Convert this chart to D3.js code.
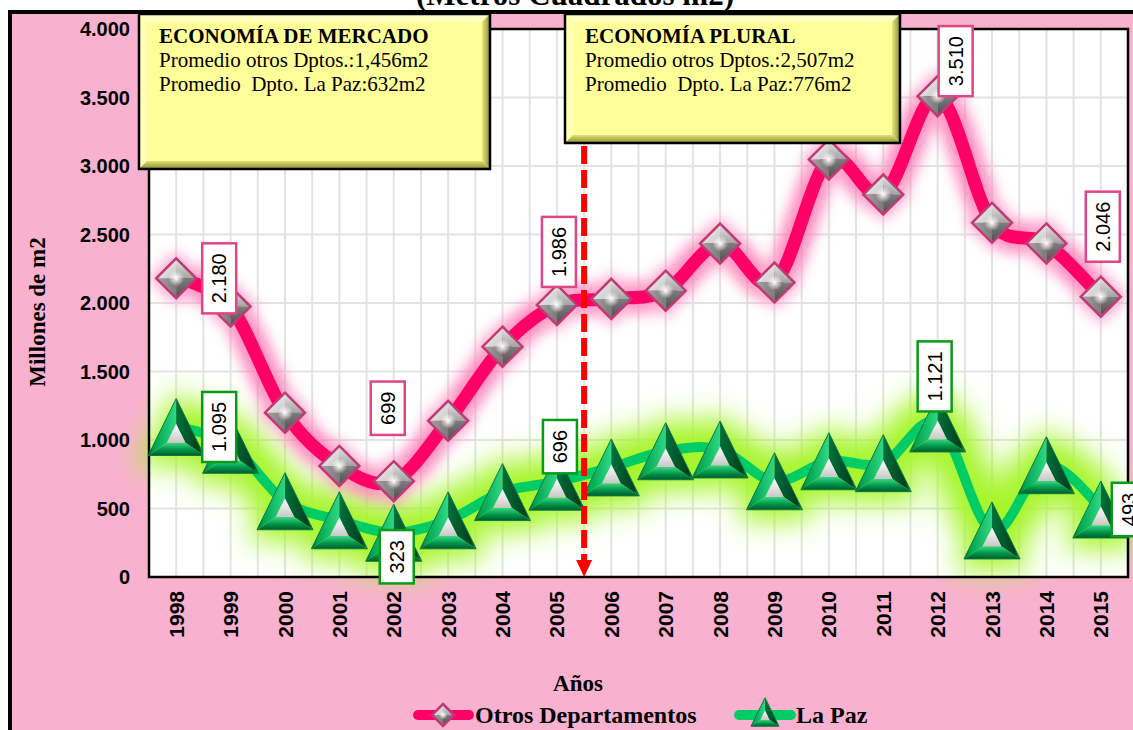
<!DOCTYPE html>
<html>
<head>
<meta charset="utf-8">
<title>Millones de m2</title>
<script src="https://cdn.jsdelivr.net/npm/d3@7"></script>
<style>
body { margin:0; background:#fff; }
svg { display:block; }
</style>
</head>
<body>
<div id="chart"></div>
<script>

var years = ["1998","1999","2000","2001","2002","2003","2004","2005","2006",
             "2007","2008","2009","2010","2011","2012","2013","2014","2015"];
var otrosDptos = [2180, 1974, 1199, 811, 699, 1140, 1681, 1986, 2030,
                  2090, 2434, 2149, 3048, 2792, 3510, 2585, 2435, 2046];
var laPaz = [1095, 965, 553, 414, 323, 414, 620, 696, 800,
             918, 931, 699, 845, 831, 1121, 340, 816, 493];
var yTicks = [0, 500, 1000, 1500, 2000, 2500, 3000, 3500, 4000];
var seriesNames = ["Otros Departamentos", "La Paz"];
var boxMercado = ["ECONOMÍA DE MERCADO", "Promedio otros Dptos.:1,456m2", "Promedio  Dpto. La Paz:632m2"];
var boxPlural = ["ECONOMÍA PLURAL", "Promedio otros Dptos.:2,507m2", "Promedio  Dpto. La Paz:776m2"];
var splitYear = "2006";

// which points get a value label, and where the label sits (px from the point)
var labelLayout = [
  {s: 0, i: 0,  dx: 43, dy: 0},
  {s: 0, i: 4,  dx: -6, dy: -73},
  {s: 0, i: 7,  dx: 2,  dy: -53},
  {s: 0, i: 14, dx: 18, dy: -35},
  {s: 0, i: 17, dx: 2,  dy: -70},
  {s: 1, i: 0,  dx: 43, dy: 0},
  {s: 1, i: 4,  dx: 3,  dy: 24},
  {s: 1, i: 7,  dx: 3,  dy: -35},
  {s: 1, i: 14, dx: -3, dy: -47},
  {s: 1, i: 17, dx: 28, dy: 0}
];

var W = 1133, H = 730;
var plot = {left: 149, right: 1128, top: 29, bottom: 577};
var pink = "#F8B1CF";
var sans = "'Liberation Sans', Arial, sans-serif";
var serif = "'Liberation Serif', 'Times New Roman', serif";

var fmt = function(v) { return d3.format(",")(v).replace(/,/g, "."); };

var svg = d3.select("#chart").append("svg")
  .attr("width", W).attr("height", H);

var defs = svg.append("defs");
function grad(id, x2, y2, stops) {
  var g = defs.append("linearGradient").attr("id", id)
    .attr("x1", 0).attr("y1", 0).attr("x2", x2).attr("y2", y2);
  stops.forEach(function(s) {
    g.append("stop").attr("offset", s[0]).attr("stop-color", s[1]);
  });
}
grad("tL", 1, 0, [[0, "#005a2d"], [0.2, "#00a350"], [1, "#2fd884"]]);
grad("tR", 1, 0, [[0, "#00713a"], [0.8, "#003f1f"], [1, "#0f8f4c"]]);
grad("tB", 0, 1, [[0, "#3ad685"], [0.55, "#00964a"], [1, "#005a2c"]]);
grad("tI", 0, 1, [[0, "#ffffff"], [1, "#c8c8c8"]]);
grad("dTL", 1, 1, [[0, "#ffffff"], [1, "#c4c4c4"]]);
grad("dTR", 0, 1, [[0, "#e6e6e6"], [1, "#a3a3a3"]]);
grad("dBL", 1, 0, [[0, "#a8a8a8"], [1, "#7a7a7a"]]);
grad("dBR", 0, 1, [[0, "#7d7d7d"], [1, "#4d4d4d"]]);
grad("boxR", 1, 0, [[0, "#e8e87a"], [1, "#8c8c3a"]]);
grad("boxB", 0, 1, [[0, "#e0e070"], [1, "#8a8a38"]]);
var rg = defs.append("radialGradient").attr("id", "dHi");
rg.append("stop").attr("offset", 0).attr("stop-color", "#fff").attr("stop-opacity", 1);
rg.append("stop").attr("offset", 1).attr("stop-color", "#fff").attr("stop-opacity", 0);

defs.append("filter").attr("id", "blurPink")
  .attr("filterUnits", "userSpaceOnUse").attr("x", 0).attr("y", 0).attr("width", W).attr("height", H)
  .append("feGaussianBlur").attr("stdDeviation", 7);
defs.append("filter").attr("id", "blurGreen")
  .attr("filterUnits", "userSpaceOnUse").attr("x", 0).attr("y", 0).attr("width", W).attr("height", H)
  .append("feGaussianBlur").attr("stdDeviation", 14);

// outer frame
svg.append("rect").attr("x", 10).attr("y", 12).attr("width", W + 20).attr("height", H + 20)
  .attr("fill", pink).attr("stroke", "#000").attr("stroke-width", 4);

svg.append("text").attr("x", 575).attr("y", 5)
  .attr("text-anchor", "middle")
  .style("font-family", serif).style("font-weight", "bold").style("font-size", "31px")
  .text("(Metros Cuadrados m2)");

var x = d3.scaleBand().domain(years).range([plot.left, plot.right]);
var y = d3.scaleLinear().domain([0, 4000]).range([plot.bottom, plot.top]);
var bw = x.bandwidth();
var cx = function(d) { return x(d) + bw / 2; };

svg.append("rect").attr("x", plot.left).attr("y", plot.top)
  .attr("width", plot.right - plot.left).attr("height", plot.bottom - plot.top)
  .attr("fill", "#fff");

// grid
var grid = svg.append("g").attr("stroke", "#e3e3e3").attr("stroke-width", 2);
grid.selectAll(".hg").data(yTicks).enter().append("line")
  .attr("x1", plot.left).attr("x2", plot.right)
  .attr("y1", function(d) { return y(d); }).attr("y2", function(d) { return y(d); });
var vLines = [];
years.forEach(function(d) { vLines.push(x(d)); vLines.push(cx(d)); });
grid.selectAll(".vg").data(vLines).enter().append("line")
  .attr("y1", plot.top).attr("y2", plot.bottom)
  .attr("x1", function(d) { return d; }).attr("x2", function(d) { return d; });

var line = d3.line()
  .x(function(d, i) { return cx(years[i]); })
  .y(function(d) { return y(d); })
  .curve(d3.curveCardinal.tension(0));

function triPts(s) {
  var hw = 28 * s, hh = 28.5 * s;
  return [[0, -hh], [-hw, hh], [hw, hh]];
}
function diaPts(r) { return [[0, -r], [r, 0], [0, r], [-r, 0]]; }
function pts(a) { return a.map(function(p) { return p.join(","); }).join(" "); }

// glows
var gg = svg.append("g").attr("filter", "url(#blurGreen)");
gg.append("path").datum(laPaz).attr("d", line)
  .attr("fill", "none").attr("stroke", "#a6f52c").attr("stroke-width", 54);
gg.selectAll("polygon").data(laPaz).enter().append("polygon")
  .attr("points", pts(triPts(1.4)))
  .attr("transform", function(d, i) { return "translate(" + cx(years[i]) + "," + y(d) + ")"; })
  .attr("fill", "#a6f52c");

var pg = svg.append("g").attr("filter", "url(#blurPink)").attr("opacity", 0.8);
pg.append("path").datum(otrosDptos).attr("d", line)
  .attr("fill", "none").attr("stroke", "#ff6fb0").attr("stroke-width", 32);
pg.selectAll("polygon").data(otrosDptos).enter().append("polygon")
  .attr("points", pts(diaPts(27)))
  .attr("transform", function(d, i) { return "translate(" + cx(years[i]) + "," + y(d) + ")"; })
  .attr("fill", "#ff8fc0");

// lines
svg.append("path").datum(otrosDptos).attr("d", line)
  .attr("fill", "none").attr("stroke", "#FF0066").attr("stroke-width", 13);
svg.append("path").datum(laPaz).attr("d", line)
  .attr("fill", "none").attr("stroke", "#00CC66").attr("stroke-width", 10);

// plot border
svg.append("rect").attr("x", plot.left).attr("y", plot.top)
  .attr("width", plot.right - plot.left).attr("height", plot.bottom - plot.top)
  .attr("fill", "none").attr("stroke", "#000").attr("stroke-width", 2.5);

// markers
function drawTri(g, s) {
  var t = triPts(s), G = [0, 9.5 * s];
  var inn = t.map(function(p) { return [G[0] + 0.33 * (p[0] - G[0]), G[1] + 0.33 * (p[1] - G[1])]; });
  g.append("polygon").attr("points", pts([t[0], t[1], inn[1], inn[0]])).attr("fill", "url(#tL)");
  g.append("polygon").attr("points", pts([t[0], t[2], inn[2], inn[0]])).attr("fill", "url(#tR)");
  g.append("polygon").attr("points", pts([t[1], t[2], inn[2], inn[1]])).attr("fill", "url(#tB)");
  g.append("polygon").attr("points", pts(inn)).attr("fill", "url(#tI)");
  g.append("polygon").attr("points", pts(t)).attr("fill", "none")
    .attr("stroke", "#0a7a3e").attr("stroke-width", 1);
}
function drawDia(g, r) {
  var T = [0, -r], R = [r, 0], B = [0, r], L = [-r, 0], C = [0, 0];
  g.append("polygon").attr("points", pts([T, L, C])).attr("fill", "url(#dTL)");
  g.append("polygon").attr("points", pts([T, R, C])).attr("fill", "url(#dTR)");
  g.append("polygon").attr("points", pts([L, B, C])).attr("fill", "url(#dBL)");
  g.append("polygon").attr("points", pts([R, B, C])).attr("fill", "url(#dBR)");
  g.append("circle").attr("r", r * 0.4).attr("fill", "url(#dHi)");
  g.append("polygon").attr("points", pts([T, R, B, L])).attr("fill", "none")
    .attr("stroke", "#c03a74").attr("stroke-width", 2.5);
}

svg.selectAll(".tri").data(laPaz).enter().append("g")
  .attr("transform", function(d, i) { return "translate(" + cx(years[i]) + "," + y(d) + ")"; })
  .each(function() { drawTri(d3.select(this), 1); });
svg.selectAll(".dia").data(otrosDptos).enter().append("g")
  .attr("transform", function(d, i) { return "translate(" + cx(years[i]) + "," + y(d) + ")"; })
  .each(function() { drawDia(d3.select(this), 20); });

// red dashed divider
var sx = x(splitYear);
svg.append("line").attr("x1", sx).attr("x2", sx).attr("y1", 146).attr("y2", plot.bottom - 14)
  .attr("stroke", "#FF0000").attr("stroke-width", 6).attr("stroke-dasharray", "18,6");
svg.append("polygon")
  .attr("points", pts([[sx - 8, plot.bottom - 17], [sx + 8, plot.bottom - 17], [sx, plot.bottom]]))
  .attr("fill", "#FF0000");

// value labels
var allSeries = [otrosDptos, laPaz];
var labelColors = ["#E04586", "#0A9A1A"];
labelLayout.forEach(function(l) {
  var v = allSeries[l.s][l.i];
  var g = svg.append("g")
    .attr("transform", "translate(" + (cx(years[l.i]) + l.dx) + "," + (y(v) + l.dy) + ")");
  var r = g.append("rect");
  var t = g.append("text").attr("transform", "rotate(-90)")
    .attr("text-anchor", "middle").attr("dy", "0.36em")
    .style("font-family", sans).style("font-size", "20px").text(fmt(v));
  var len = t.node().getComputedTextLength() + 20;
  r.attr("x", -17).attr("y", -len / 2).attr("width", 34).attr("height", len)
    .attr("fill", "#fff").attr("stroke", labelColors[l.s]).attr("stroke-width", 2.5);
});

// yellow boxes
function yellowBox(x0, y0, w, h, lines) {
  var g = svg.append("g").attr("transform", "translate(" + x0 + "," + y0 + ")");
  var b = 8;
  g.append("rect").attr("width", w).attr("height", h).attr("fill", "#FFFF99");
  g.append("polygon").attr("points", pts([[0, 0], [w, 0], [w - b, b], [b, b]])).attr("fill", "#ffffc4");
  g.append("polygon").attr("points", pts([[0, 0], [b, b], [b, h - b], [0, h]])).attr("fill", "#ffffb4");
  g.append("polygon").attr("points", pts([[w, 0], [w, h], [w - b, h - b], [w - b, b]])).attr("fill", "url(#boxR)");
  g.append("polygon").attr("points", pts([[0, h], [w, h], [w - b, h - b], [b, h - b]])).attr("fill", "url(#boxB)");
  g.append("rect").attr("width", w).attr("height", h).attr("fill", "none")
    .attr("stroke", "#000").attr("stroke-width", 2.5);
  lines.forEach(function(s, i) {
    g.append("text").attr("x", 20).attr("y", 29 + i * 24)
      .style("font-family", serif).style("font-size", "21px")
      .style("font-weight", i === 0 ? "bold" : "normal")
      .style("white-space", "pre").text(s);
  });
}
yellowBox(139, 14, 351, 155, boxMercado);
yellowBox(565, 14, 335, 129, boxPlural);

// axes labels
svg.selectAll(".yl").data(yTicks).enter().append("text")
  .attr("x", 130).attr("y", function(d) { return y(d); }).attr("dy", "0.36em")
  .attr("text-anchor", "end")
  .style("font-family", sans).style("font-weight", "bold").style("font-size", "20px")
  .text(fmt);

svg.selectAll(".xl").data(years).enter().append("text")
  .attr("transform", function(d) { return "translate(" + cx(d) + "," + (plot.bottom + 14) + ") rotate(-90)"; })
  .attr("dy", "0.36em").attr("text-anchor", "end")
  .style("font-family", sans).style("font-weight", "bold").style("font-size", "21px")
  .text(function(d) { return d; });

svg.append("text").attr("x", 578).attr("y", 691).attr("text-anchor", "middle")
  .style("font-family", serif).style("font-weight", "bold").style("font-size", "23px")
  .text("Años");

svg.append("text").attr("transform", "translate(45,312) rotate(-90)").attr("text-anchor", "middle")
  .style("font-family", serif).style("font-weight", "bold").style("font-size", "23px")
  .text("Millones de m2");

// legend
var lg = svg.append("g");
lg.append("line").attr("x1", 418).attr("x2", 469).attr("y1", 715).attr("y2", 715)
  .attr("stroke", "#FF0066").attr("stroke-width", 10).attr("stroke-linecap", "round");
drawDia(lg.append("g").attr("transform", "translate(443,715)"), 11);
lg.append("text").attr("x", 475).attr("y", 723)
  .style("font-family", serif).style("font-weight", "bold").style("font-size", "24px")
  .text(seriesNames[0]);
lg.append("line").attr("x1", 739).attr("x2", 791).attr("y1", 715).attr("y2", 715)
  .attr("stroke", "#00CC66").attr("stroke-width", 10).attr("stroke-linecap", "round");
drawTri(lg.append("g").attr("transform", "translate(765,712)"), 0.5);
lg.append("text").attr("x", 796).attr("y", 723)
  .style("font-family", serif).style("font-weight", "bold").style("font-size", "24px")
  .text(seriesNames[1]);

</script>
</body>
</html>
